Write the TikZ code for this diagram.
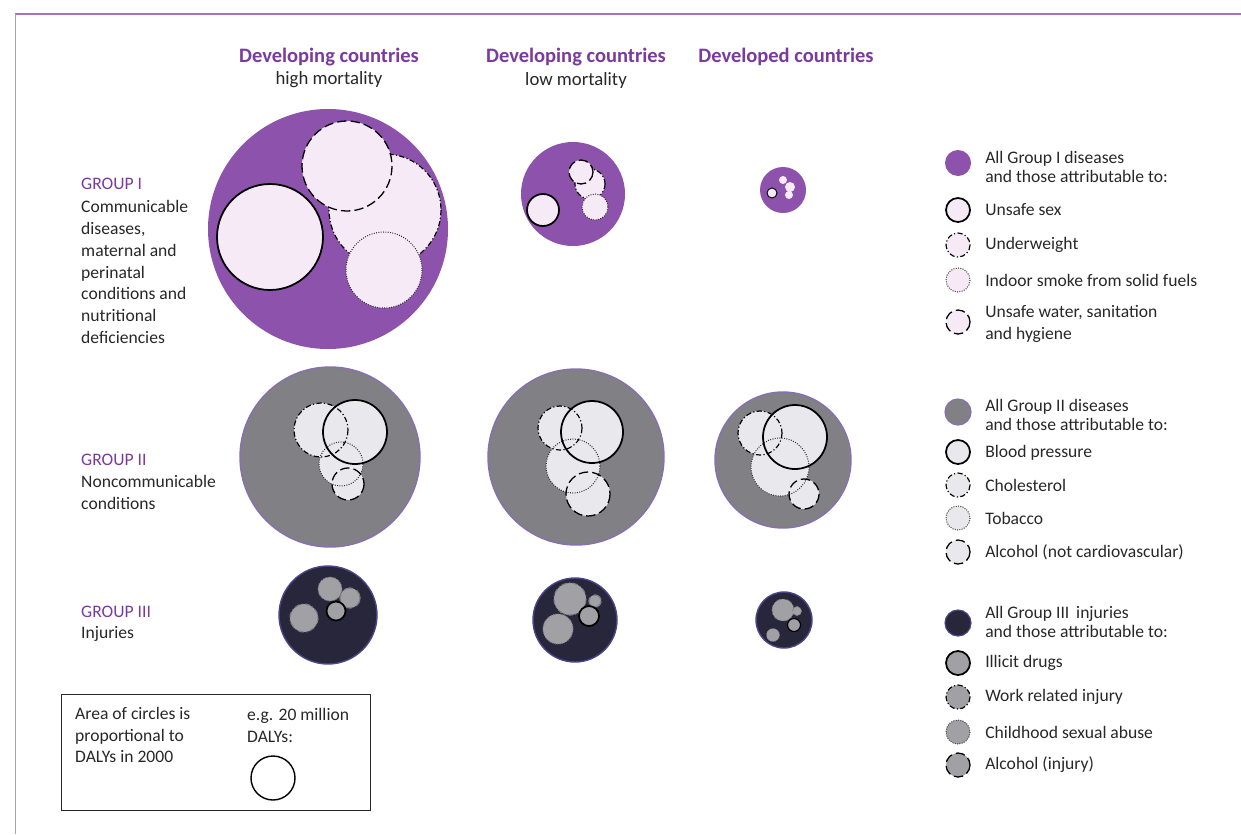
\documentclass[tikz,border=0pt]{standalone}
\usepackage{fontspec}
\setmainfont{Carlito}
\definecolor{whopurple}{RGB}{122,58,158}
\definecolor{inkgrey}{RGB}{40,40,40}
\definecolor{grponefill}{RGB}{140,82,172}
\definecolor{grponepale}{RGB}{247,234,247}
\definecolor{grptwofill}{RGB}{128,128,133}
\definecolor{grptworim}{RGB}{136,112,176}
\definecolor{grptwopale}{RGB}{233,233,237}
\definecolor{grpthreefill}{RGB}{40,38,58}
\definecolor{grpthreerim}{RGB}{78,68,140}
\definecolor{grpthreepale}{RGB}{160,160,165}
\tikzset{
  hdr/.style={font=\fontsize{17.5}{20}\selectfont\bfseries, text=whopurple, inner sep=0pt},
  subhdr/.style={font=\fontsize{16}{19}\selectfont, text=inkgrey, inner sep=0pt},
  grp/.style={font=\fontsize{15}{18.7}\selectfont, text=whopurple, inner sep=0pt, anchor=west},
  lbl/.style={font=\fontsize{15}{18.7}\selectfont, text=inkgrey, inner sep=0pt, anchor=west, align=left},
  lgdhead/.style={lbl, font=\fontsize{15}{16}\selectfont},
  solidring/.style={draw=black, line width=1.5pt},
  dashring/.style={draw=black, line width=1.1pt, dash pattern=on 8pt off 3.5pt},
  dashdotring/.style={draw=black, line width=1pt, dash pattern=on 4.5pt off 2pt on 1pt off 2pt},
  dotring/.style={draw=black!80, line width=0.9pt, dash pattern=on 0.8pt off 1.2pt},
}
\begin{document}
\begin{tikzpicture}[x=0.03cm,y=-0.03cm]
    \useasboundingbox (0,0) rectangle (1241,834);
    \fill[white] (0,0) rectangle (1241,834);
    % frame
    \draw[whopurple!70, line width=1.2pt] (15,14) -- (1241,14);
    \draw[black!35, line width=0.8pt] (15,14) -- (15,834);
    % column heads
    \node[hdr] (hdrhm) at (329,57) {Developing countries};
    \node[subhdr] (subhm) at (329,80) {high mortality};
    \node[hdr] (hdrlm) at (576,57) {Developing countries};
    \node[subhdr] (sublm) at (576,80) {low mortality};
    \node[hdr] (hdrdev) at (786,57) {Developed countries};
    % row labels
    \node[grp] (grpone) at (81,184) {GROUP I};
    \node[lbl] (grponetxt) at (81,272) {Communicable\\diseases,\\maternal and\\perinatal\\conditions and\\nutritional\\deficiencies};
    \node[grp] (grptwo) at (81,460) {GROUP II};
    \node[lbl] (grptwotxt) at (81,492) {Noncommunicable\\conditions};
    \node[grp] (grpthree) at (81,612) {GROUP III};
    \node[lbl] (grpthreetxt) at (81,634) {Injuries};
    % group I
    \fill[grponefill] (328,229) circle (120);
    \filldraw[fill=grponepale, dashdotring] (385,210) circle (56);
    \filldraw[fill=grponepale, dashring] (347,166) circle (45);
    \filldraw[fill=grponepale, dotring] (384,270) circle (38);
    \filldraw[fill=grponepale, solidring] (270,237) circle (53);
    \fill[grponefill] (573,194) circle (52);
    \filldraw[fill=grponepale, dashdotring] (590,184) circle (15);
    \filldraw[fill=grponepale, dashring] (581,172) circle (12);
    \filldraw[fill=grponepale, dotring] (595,207) circle (13);
    \filldraw[fill=grponepale, solidring] (543,210) circle (16);
    \fill[grponefill] (783,190) circle (23);
    \fill[grponepale] (790,187) circle (5) (783,180) circle (4) (789,195) circle (4);
    \filldraw[fill=grponepale, solidring, line width=0.8pt] (772,193) circle (5);
    % group II
    \filldraw[fill=grptwofill, draw=grptworim, line width=1.2pt] (330,457) circle (90);
    \fill[grptwopale] (321,430) circle (27) (341,464) circle (22) (348,484) circle (16) (355,432) circle (32);
    \draw[dashdotring] (321,430) circle (27);
    \draw[dotring] (341,464) circle (22);
    \draw[dashring] (348,484) circle (16);
    \draw[solidring] (355,432) circle (32);
    \filldraw[fill=grptwofill, draw=grptworim, line width=1.2pt] (576,457) circle (88);
    \fill[grptwopale] (560,428) circle (22) (573,466) circle (27) (588,494) circle (22) (592,432) circle (31);
    \draw[dashdotring] (560,428) circle (22);
    \draw[dotring] (573,466) circle (27);
    \draw[dashring] (588,494) circle (22);
    \draw[solidring] (592,432) circle (31);
    \filldraw[fill=grptwofill, draw=grptworim, line width=1.2pt] (783,460) circle (68);
    \fill[grptwopale] (760,433) circle (22) (780,467) circle (29) (804,494) circle (15) (795,437) circle (32);
    \draw[dashdotring] (760,433) circle (22);
    \draw[dotring] (780,467) circle (29);
    \draw[dashring] (804,494) circle (15);
    \draw[solidring] (795,437) circle (32);
    % group III
    \filldraw[fill=grpthreefill, draw=grpthreerim, line width=1.2pt] (328,615) circle (49);
    \filldraw[fill=grpthreepale, dashdotring, draw=grpthreepale!80!black] (304,618) circle (14);
    \filldraw[fill=grpthreepale, dotring, draw=grpthreepale!80!black] (330,589) circle (12);
    \filldraw[fill=grpthreepale, dashring, draw=grpthreepale!80!black] (350,598) circle (10);
    \filldraw[fill=grpthreepale, solidring, draw=black] (336,611) circle (9.5);
    \filldraw[fill=grpthreefill, draw=grpthreerim, line width=1.2pt] (575,620) circle (42);
    \filldraw[fill=grpthreepale, dashdotring, draw=grpthreepale!80!black] (570,599) circle (16);
    \filldraw[fill=grpthreepale, dotring, draw=grpthreepale!80!black] (558,629) circle (15);
    \filldraw[fill=grpthreepale, dashring, draw=grpthreepale!80!black] (595,601) circle (6);
    \filldraw[fill=grpthreepale, solidring, draw=black] (589,616) circle (10);
    \filldraw[fill=grpthreefill, draw=grpthreerim, line width=1.2pt] (784,620) circle (28);
    \filldraw[fill=grpthreepale, dashdotring, draw=grpthreepale!80!black, line width=0.6pt] (783,610) circle (11);
    \filldraw[fill=grpthreepale, dotring, draw=grpthreepale!80!black, line width=0.6pt] (773,635) circle (6.5);
    \filldraw[fill=grpthreepale, dashring, draw=grpthreepale!80!black, line width=0.6pt] (797,611) circle (4.5);
    \filldraw[fill=grpthreepale, solidring, draw=black, line width=1pt] (794,625) circle (6.5);
    % legend group I
    \fill[grponefill] (958,163) circle (13);
    \node[lgdhead] (lgonehead) at (985,167) {All Group I diseases\\and those attributable to:};
    \filldraw[fill=grponepale, solidring] (958,210) circle (12);
    \node[lbl] (lgsex) at (985,210) {Unsafe sex};
    \filldraw[fill=grponepale, dashdotring] (958,245) circle (12);
    \node[lbl] (lgweight) at (985,245) {Underweight};
    \filldraw[fill=grponepale, dotring] (958,280) circle (12);
    \node[lbl] (lgsmoke) at (985,280) {Indoor smoke from solid fuels};
    \filldraw[fill=grponepale, dashring] (958,322) circle (12);
    \node[lbl] (lgwater) at (985,324) {Unsafe water, sanitation\\and hygiene};
    % legend group II
    \filldraw[fill=grptwofill, draw=grptworim, line width=1pt] (958,412) circle (13);
    \node[lgdhead] (lgtwohead) at (985,415) {All Group II diseases\\and those attributable to:};
    \filldraw[fill=grptwopale, solidring] (958,452) circle (12);
    \node[lbl] (lgbp) at (985,453) {Blood pressure};
    \filldraw[fill=grptwopale, dashdotring] (958,485) circle (12);
    \node[lbl] (lgchol) at (985,485) {Cholesterol};
    \filldraw[fill=grptwopale, dotring] (958,518) circle (12);
    \node[lbl] (lgtob) at (985,518) {Tobacco};
    \filldraw[fill=grptwopale, dashring] (958,552) circle (12);
    \node[lbl] (lgalc) at (985,552) {Alcohol (not cardiovascular)};
    % legend group III
    \filldraw[fill=grpthreefill, draw=grpthreerim, line width=1pt] (958,623) circle (13);
    \node[lgdhead] (lgthreehead) at (985,622) {All Group III\, injuries\\and those attributable to:};
    \filldraw[fill=grpthreepale, solidring] (958,663) circle (12);
    \node[lbl] (lgdrug) at (985,663) {Illicit drugs};
    \filldraw[fill=grpthreepale, dashdotring] (958,697) circle (12);
    \node[lbl] (lgwork) at (985,697) {Work related injury};
    \filldraw[fill=grpthreepale, dotring] (958,732) circle (12);
    \node[lbl] (lgabuse) at (985,732) {Childhood sexual abuse};
    \filldraw[fill=grpthreepale, dashring] (958,765) circle (12);
    \node[lbl] (lginj) at (985,765) {Alcohol (injury)};
    % scale box
    \draw[inkgrey, line width=0.8pt] (61,694) rectangle (370,810);
    \node[lbl] (boxtxt) at (75,735) {Area of circles is\\proportional to\\DALYs in 2000};
    \node[lbl] (boxeg) at (247,725) {e.g. 20 million\\DALYs:};
    \draw[line width=1.2pt] (273,778) circle (22);
\end{tikzpicture}
\end{document}
